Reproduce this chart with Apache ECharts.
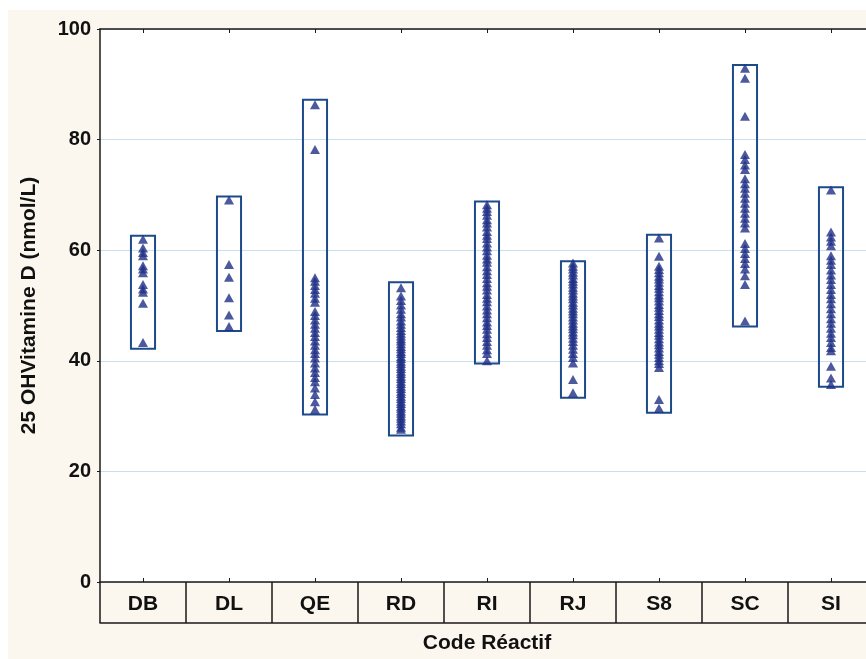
<!DOCTYPE html>
<html>
<head>
<meta charset="utf-8">
<script src="https://cdn.jsdelivr.net/npm/echarts@6/dist/echarts.min.js"></script>
<style>
html,body{margin:0;padding:0;background:#fcf7ee;overflow:hidden;}
#c{width:874px;height:659px;}
</style>
</head>
<body>
<div id="c"></div>
<script>
// ---- data ----
var categories = ['DB','DL','QE','RD','RI','RJ','S8','SC','SI'];
var yTicks = [0,20,40,60,80,100];
var boxLow  = [42.2, 45.4, 30.3, 26.5, 39.5, 33.3, 30.6, 46.2, 35.3];
var boxHigh = [62.6, 69.7, 87.2, 54.2, 68.8, 58.0, 62.8, 93.5, 71.4];

var valsDB = [62.0, 60.4, 59.6, 59.0, 57.2, 56.6, 55.9, 53.8, 53.0, 52.4, 50.4, 43.3];
var valsDL = [69.1, 57.4, 55.1, 51.4, 48.3, 46.2];
var valsQE = [86.3, 78.2, 55.0, 54.4, 53.6, 52.9, 52.2, 51.3, 50.6, 48.9, 48.2, 47.4, 46.6, 45.9, 45.1, 44.4, 43.6, 42.8, 42.0, 41.3, 40.5, 39.6, 38.7, 37.9, 37.0, 36.2, 35.1, 33.9, 32.6, 31.2];
var valsRD = [53.2, 51.7, 50.9, 50.1, 49.3, 48.5, 47.9, 47.2, 46.6, 46.0, 45.5, 45.0, 44.5, 44.0, 43.6, 43.1, 42.6, 42.2, 41.7, 41.3, 40.8, 40.4, 39.9, 39.5, 39.0, 38.6, 38.1, 37.7, 37.2, 36.8, 36.3, 35.9, 35.4, 35.0, 34.5, 34.1, 33.6, 33.2, 32.7, 32.3, 31.8, 31.4, 30.9, 30.5, 30.0, 29.6, 29.1, 28.6, 28.0, 27.6];
var valsRI = [68.2, 67.6, 67.0, 66.3, 65.5, 64.9, 64.2, 63.4, 62.7, 62.1, 61.3, 60.6, 59.9, 59.1, 58.4, 57.8, 57.0, 56.3, 55.6, 54.9, 54.1, 53.5, 52.8, 52.0, 51.3, 50.7, 49.9, 49.2, 48.5, 47.8, 47.0, 46.4, 45.7, 44.9, 44.2, 43.5, 42.8, 42.0, 41.3, 40.0];
var valsRJ = [57.7, 57.1, 56.6, 56.0, 55.5, 54.9, 54.4, 53.9, 53.3, 52.8, 52.2, 51.7, 51.2, 50.6, 50.1, 49.5, 49.0, 48.5, 47.9, 47.4, 46.8, 46.3, 45.8, 45.2, 44.7, 44.1, 43.5, 42.8, 42.1, 41.3, 40.6, 39.6, 36.6, 34.2];
var valsS8 = [62.2, 58.9, 57.1, 56.5, 55.9, 55.3, 54.8, 54.2, 53.6, 53.1, 52.5, 51.9, 51.4, 50.8, 50.2, 49.7, 49.1, 48.5, 48.0, 47.4, 46.8, 46.3, 45.7, 45.1, 44.6, 44.0, 43.4, 42.9, 42.3, 41.7, 41.2, 40.6, 40.0, 39.5, 38.8, 33.0, 31.4];
var valsSC = [92.9, 91.1, 84.2, 77.3, 76.4, 75.4, 74.6, 72.9, 72.0, 71.2, 70.3, 69.4, 68.5, 67.6, 66.7, 65.8, 64.9, 64.0, 61.2, 60.3, 59.4, 58.5, 57.6, 56.6, 55.4, 53.8, 47.2];
var valsSI = [70.9, 63.3, 62.4, 61.6, 60.8, 59.0, 58.2, 57.4, 56.4, 55.5, 54.7, 53.8, 52.9, 52.0, 51.2, 50.3, 49.4, 48.5, 47.6, 46.8, 45.9, 45.0, 44.2, 43.3, 42.4, 41.8, 39.0, 36.9, 35.7];

var groups = [valsDB, valsDL, valsQE, valsRD, valsRI, valsRJ, valsS8, valsSC, valsSI];

// ---- build ----
var scatterData = [];
groups.forEach(function(g, i){ g.forEach(function(v){ scatterData.push([i, v]); }); });
var boxData = categories.map(function(c, i){ return [i, boxLow[i], boxHigh[i]]; });

var FONT = '"Liberation Sans", Arial, sans-serif';
var chart = echarts.init(document.getElementById('c'), null, {renderer:'canvas', width:874, height:659});
chart.setOption({
  backgroundColor: '#fcf7ee',
  animation: false,
  graphic: [
    {type:'rect', shape:{x:0,y:0,width:874,height:10}, style:{fill:'#ffffff'}, z:-10},
    {type:'rect', shape:{x:0,y:0,width:8,height:659}, style:{fill:'#ffffff'}, z:-10}
  ],
  grid: {left:100, top:29, right:0, height:554, show:true, backgroundColor:'#ffffff', borderWidth:0},
  xAxis: [
    {type:'category', data:categories, position:'bottom', boundaryGap:true,
     axisLine:{show:true, lineStyle:{color:'#1a1a1a', width:1.5}},
     axisTick:{show:true, length:41, alignWithLabel:false, lineStyle:{color:'#1a1a1a', width:1.5}},
     axisLabel:{show:true, margin:12, color:'#111', fontFamily:FONT, fontWeight:'bold', fontSize:21},
     splitLine:{show:false},
     name:'Code Réactif', nameLocation:'middle', nameGap:51,
     nameTextStyle:{color:'#111', fontFamily:FONT, fontWeight:'bold', fontSize:21}},
    {type:'category', data:categories, position:'bottom', offset:41, gridIndex:0,
     axisLine:{show:true, lineStyle:{color:'#1a1a1a', width:1.5}},
     axisTick:{show:false}, axisLabel:{show:false}, splitLine:{show:false}},
    {type:'category', data:categories, position:'top', gridIndex:0,
     axisLine:{show:true, lineStyle:{color:'#1a1a1a', width:1.5}},
     axisTick:{show:true, inside:true, length:4, alignWithLabel:true, lineStyle:{color:'#1a1a1a'}},
     axisLabel:{show:false}, splitLine:{show:false}},
    {type:'category', data:categories, position:'bottom', gridIndex:0,
     axisLine:{show:false},
     axisTick:{show:true, inside:true, length:4, alignWithLabel:true, lineStyle:{color:'#1a1a1a'}},
     axisLabel:{show:false}, splitLine:{show:false}}
  ],
  yAxis: {
    type:'value', min:yTicks[0], max:yTicks[yTicks.length-1], interval:20,
    axisLine:{show:true, lineStyle:{color:'#1a1a1a', width:1.5}},
    axisTick:{show:true, length:3, lineStyle:{color:'#1a1a1a'}},
    axisLabel:{margin:9, color:'#111', fontFamily:FONT, fontWeight:'bold', fontSize:20},
    splitLine:{show:true, lineStyle:{color:'#c9dff0', width:1}},
    name:'25 OHVitamine D (nmol/L)', nameLocation:'middle', nameGap:60, nameRotate:90,
    nameTextStyle:{color:'#111', fontFamily:FONT, fontWeight:'bold', fontSize:21}
  },
  series: [
    {type:'custom', xAxisIndex:0, data:boxData, z:2,
     renderItem:function(params, api){
       var i = api.value(0);
       var top = api.coord([i, api.value(2)]);
       var bot = api.coord([i, api.value(1)]);
       var w = api.size([1,0])[0] * 0.28;
       return {type:'rect', shape:{x:top[0]-w/2, y:top[1], width:w, height:bot[1]-top[1]},
               style:{fill:'rgba(255,255,255,0)', stroke:'#1d4a8a', lineWidth:2}};
     }},
    {type:'scatter', xAxisIndex:0, data:scatterData, symbol:'triangle', symbolSize:[10,9], z:3,
     itemStyle:{color:'#1f2f86'}}
  ]
});
</script>
</body>
</html>
